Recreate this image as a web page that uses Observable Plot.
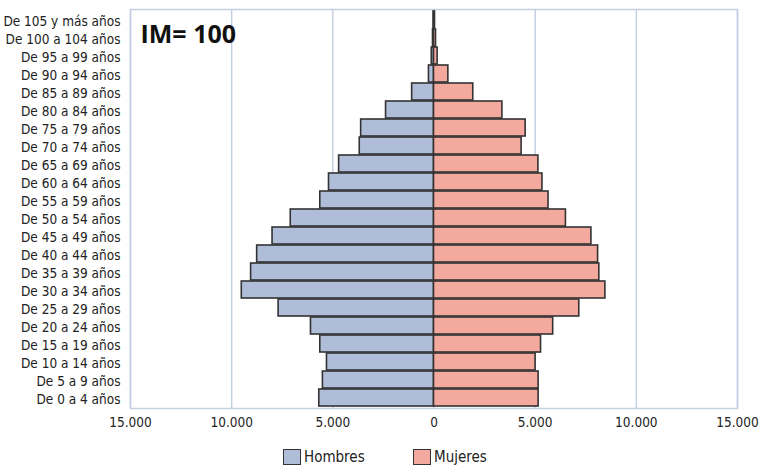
<!DOCTYPE html>
<html>
<head>
<meta charset="utf-8">
<script src="https://cdn.jsdelivr.net/npm/d3@7"></script>
<script src="https://cdn.jsdelivr.net/npm/@observablehq/plot@0.6"></script>
<style>
  body { margin: 0; background: #fff; font-family: "DejaVu Sans", sans-serif; font-stretch: condensed; }
  svg text { font-stretch: condensed; }
  #legend { position: relative; height: 28px; font-size: 15px; color: #222; }
  .item { position: absolute; top: 8px; display: flex; align-items: center; }
  .sw { width: 18px; height: 16px; border: 1.5px solid #333; margin-right: 3px; box-sizing: border-box; }
</style>
</head>
<body>
<div id="chart"></div>
<div id="legend"></div>
<script>
const ageGroups = [
  "De 105 y más años", "De 100 a 104 años", "De 95 a 99 años", "De 90 a 94 años",
  "De 85 a 89 años", "De 80 a 84 años", "De 75 a 79 años", "De 70 a 74 años",
  "De 65 a 69 años", "De 60 a 64 años", "De 55 a 59 años", "De 50 a 54 años",
  "De 45 a 49 años", "De 40 a 44 años", "De 35 a 39 años", "De 30 a 34 años",
  "De 25 a 29 años", "De 20 a 24 años", "De 15 a 19 años", "De 10 a 14 años",
  "De 5 a 9 años", "De 0 a 4 años"
];
const hombres = [20, 50, 110, 250, 1080, 2370, 3600, 3670, 4690, 5190, 5620, 7080,
  7980, 8740, 9040, 9500, 7680, 6080, 5620, 5290, 5490, 5670];
const mujeres = [50, 100, 180, 710, 1940, 3380, 4530, 4330, 5160, 5360, 5660, 6520,
  7780, 8110, 8170, 8470, 7180, 5890, 5290, 5020, 5170, 5170];
const seriesNames = ["Hombres", "Mujeres"];
const seriesColors = ["#afbdd8", "#f4a99f"];
const xTicks = [-15000, -10000, -5000, 0, 5000, 10000, 15000];
const annotation = "IM= 100";

const rows = [];
ageGroups.forEach((a, i) => {
  rows.push({age: a, sex: "Hombres", value: -hombres[i]});
  rows.push({age: a, sex: "Mujeres", value: mujeres[i]});
});

const fmt = d => d3.format(",")(Math.abs(d)).replace(/,/g, ".");

const chart = Plot.plot({
  width: 759,
  height: 440,
  marginLeft: 130,
  marginRight: 22,
  marginTop: 9,
  marginBottom: 32,
  style: {fontFamily: '"DejaVu Sans", sans-serif', fontStretch: "condensed", fontSize: "13px", color: "#222"},
  x: {domain: [-15000, 15000], ticks: xTicks, tickFormat: fmt, label: null, tickSize: 0, tickPadding: 8},
  y: {domain: ageGroups, label: null, padding: 0.04},
  color: {domain: seriesNames, range: seriesColors},
  marks: [
    Plot.gridX(xTicks, {stroke: "#c5cfe3", strokeOpacity: 1, strokeWidth: 1.5}),
    Plot.frame({stroke: "#c5cfe3", strokeWidth: 1.5}),
    Plot.barX(rows, {x: "value", y: "age", fill: "sex", stroke: "#333", strokeWidth: 1.6}),
    Plot.axisY({tickSize: 0, tickPadding: 10, fontSize: 13.5, label: null, dy: 1.5}),
    Plot.axisX(xTicks, {tickSize: 0, tickPadding: 9, tickFormat: fmt, fontSize: 13.5, label: null}),
    Plot.text([annotation], {frameAnchor: "top-left", dx: 10, dy: 16, fontSize: 25, fontWeight: "bold", fill: "#111", fontFamily: '"Open Sans", sans-serif', textAnchor: "start", lineAnchor: "top"})
  ]
});
document.getElementById("chart").appendChild(chart);
chart.querySelectorAll("text").forEach(t => {
  if (t.textContent === annotation) t.style.fontStretch = "normal";
});

const legend = document.getElementById("legend");
const legendLeft = [283, 413];
seriesNames.forEach((n, i) => {
  const item = document.createElement("div");
  item.className = "item";
  item.style.left = legendLeft[i] + "px";
  const sw = document.createElement("div");
  sw.className = "sw";
  sw.style.background = seriesColors[i];
  const t = document.createElement("span");
  t.textContent = n;
  item.appendChild(sw);
  item.appendChild(t);
  legend.appendChild(item);
});
</script>
</body>
</html>
